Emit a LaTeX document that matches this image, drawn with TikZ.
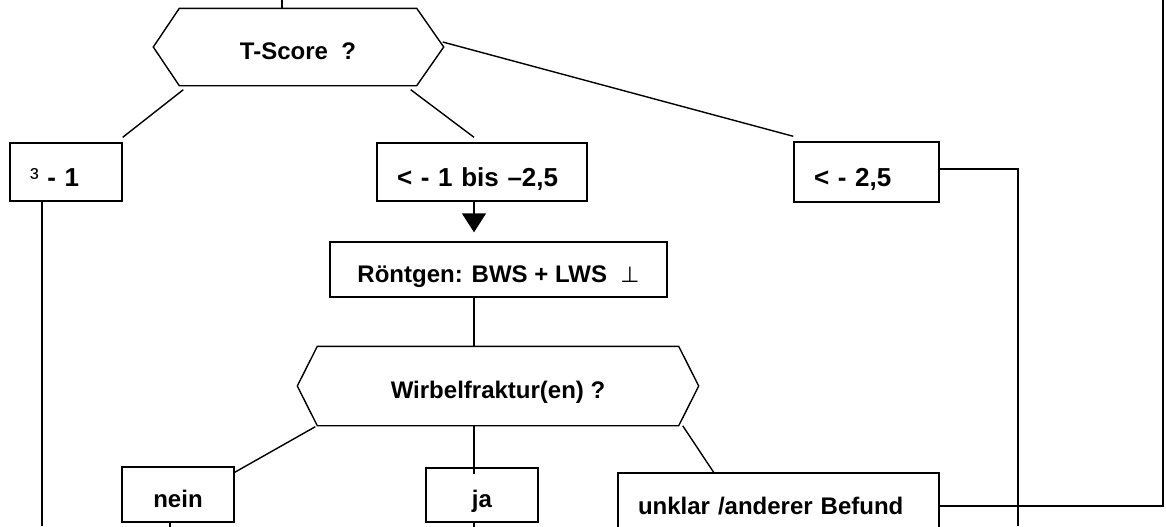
\documentclass[tikz,border=0pt]{standalone}
\usepackage{fontspec}
\setmainfont{Liberation Sans}
\newfontfamily\symfont{DejaVu Sans}
\usetikzlibrary{arrows.meta, calc}
\tikzset{
    flowbox/.style={draw, rectangle, inner sep=0pt, text height=13pt, text depth=0.2pt,
        font=\fontsize{12}{14}\selectfont\bfseries},
    leftbox/.style={flowbox, align=left, inner xsep=10pt, text height=14.5pt,
        font=\fontsize{13}{15}\selectfont\bfseries},
    hexnode/.style={inner sep=0pt, text height=13pt, text depth=0.2pt,
        font=\fontsize{12}{14}\selectfont\bfseries},
}

\begin{document}
\begin{tikzpicture}[x=0.5pt, y=-0.5pt, line width=0.7pt]
            \useasboundingbox (0,0) rectangle (1166,526);
            % question nodes
            \node[hexnode, minimum width=118pt, minimum height=38pt] (ts) at (298,47) {T-Score~~?};
            \draw (ts.north west) -- (ts.north east) -- ($(ts.east)+(27,0)$) -- (ts.south east)
                -- (ts.south west) -- ($(ts.west)+(-26,0)$) -- cycle;
            \node[hexnode, minimum width=180pt, minimum height=39pt] (wf) at (498,386) {Wirbelfraktur(en) ?};
            \draw (wf.north west) -- (wf.north east) -- ($(wf.east)+(20,0)$) -- (wf.south east)
                -- (wf.south west) -- ($(wf.west)+(-20,0)$) -- cycle;
            % T-score ranges
            \node[leftbox, text width=36pt, minimum height=29pt] (low) at (66,172) {{\mdseries ³} - 1};
            \node[leftbox, text width=85pt, minimum height=29pt] (mid) at (482,172) {< - 1 bis –2,5};
            \node[leftbox, text width=52.5pt, minimum height=30pt] (high) at (866.5,172) {< - 2,5};
            \node[flowbox, minimum width=168.5pt, minimum height=27.5pt] (xray) at (498.5,269.5)
                {Röntgen: BWS + LWS~~{\symfont\mdseries\fontsize{11}{12}\selectfont ⊥}};
            % findings
            \node[flowbox, minimum width=56pt, minimum height=27.5pt] (nein) at (178,494.5) {nein};
            \node[flowbox, minimum width=56pt, minimum height=27pt] (ja) at (482,495) {ja};
            \node[flowbox, align=left, inner xsep=10pt, text width=140.5pt, minimum height=29pt] (unk) at (778.5,502)
                {unklar /anderer Befund};
            % free ends
            \coordinate (axis) at (474,0);
            \coordinate (feed) at (282,0);
            \coordinate (rtop) at (1163,0);
            \coordinate (rbot) at (1018,526);
            \coordinate (bot) at (0,526);
            % connectors
            \draw (feed) -- (feed |- ts.north);
            \draw ($(ts.south west)+(4,4)$) -- ($(low.north east)+(0,-5)$);
            \draw ($(ts.south east)+(-6,4)$) -- ($(mid.north -| axis)+(0,-5)$);
            \draw ($(ts.east)+(26,-5)$) -- ($(high.north west)+(0,-5)$);
            \draw[-{Triangle[width=12pt,length=9.5pt]}, shorten >=4.5pt] (mid.south -| axis) -- (xray.north -| axis);
            \draw (xray.south -| axis) -- (wf.north -| axis);
            \draw ($(wf.south west)+(-2,1)$) -- ($(nein.north east)+(0,6)$);
            \draw (wf.south -| axis) -- ($(ja.north -| axis)+(0,7)$);
            \draw ($(wf.south east)+(4,0)$) -- ($(unk.north west)+(97,1)$);
            \draw ($(high.east)+(0,-3)$) -| (rbot);
            \draw ($(unk.east)+(0,4)$) -| (rtop);
            \draw ($(low.south)+(-24,0)$) coordinate (l1) -- (l1 |- bot);
            \draw ($(nein.south)+(-8,0)$) -- +(0,10);
            \draw (ja.south -| axis) -- +(0,10);
        \end{tikzpicture}
\end{document}
